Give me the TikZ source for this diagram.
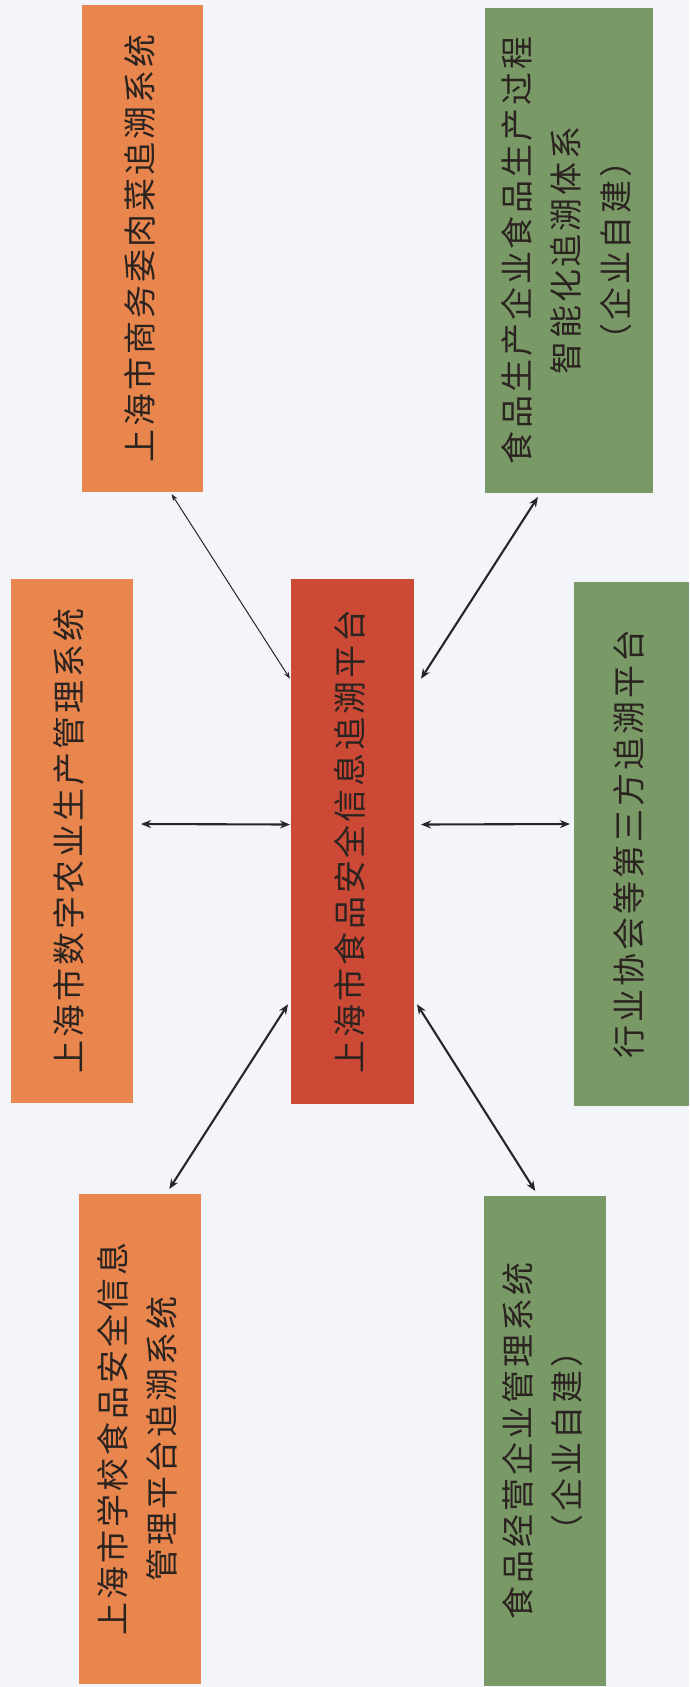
\documentclass[tikz,border=0pt]{standalone}
\usepackage{fontspec}
\newfontfamily\cjk[LetterSpace=9]{Noto Sans CJK SC}
\usetikzlibrary{calc,arrows.meta}
\definecolor{bgcol}{HTML}{F3F5FA}
\definecolor{orangebox}{HTML}{E9864D}
\definecolor{redbox}{HTML}{CC4936}
\definecolor{greenbox}{HTML}{799966}
\definecolor{txtcol}{HTML}{2A2320}
\newcommand\vtext[1]{\rotatebox{90}{\begin{tabular}{@{}c@{}}#1\end{tabular}}}
\tikzset{
  box/.style={rectangle, inner sep=0pt, outer sep=0pt, text=txtcol,
    font=\cjk\fontsize{33}{49.5}\selectfont},
  thinlink/.style={draw=black!85, line width=1pt, {Stealth[length=7pt,width=5pt]}-{Stealth[length=7pt,width=5pt]}},
  thicklink/.style={draw=black!85, line width=2.1pt, {Stealth[length=10pt,width=8pt]}-{Stealth[length=10pt,width=8pt]}}
}
\begin{document}
\begin{tikzpicture}[x=1pt,y=-1pt]
\fill[bgcol] (0,0) rectangle (689,1687);
\useasboundingbox (0,0) rectangle (689,1687);

\node[box, fill=orangebox, minimum width=121pt, minimum height=487pt] (tl) at (142.5,248.5) {\vtext{上海市商务委肉菜追溯系统}};
\node[box, fill=greenbox, minimum width=168pt, minimum height=485pt] (tr) at (569,250.5) {\vtext{食品生产企业食品生产过程\\智能化追溯体系\\（企业自建）}};
\node[box, fill=orangebox, minimum width=122pt, minimum height=524pt] (ml) at (72,841) {\vtext{上海市数字农业生产管理系统}};
\node[box, fill=redbox, minimum width=123pt, minimum height=525pt] (c) at (352.5,841.5) {\vtext{上海市食品安全信息追溯平台}};
\node[box, fill=greenbox, minimum width=115pt, minimum height=524pt] (mr) at (631.5,844) {\vtext{行业协会等第三方追溯平台}};
\node[box, fill=orangebox, minimum width=122pt, minimum height=490pt] (bl) at (140,1439) {\vtext{上海市学校食品安全信息\\管理平台追溯系统}};
\node[box, fill=greenbox, minimum width=122pt, minimum height=490pt] (br) at (545,1441) {\vtext{食品经营企业管理系统\\（企业自建）}};

\draw[thinlink] ($(tl.south west)!0.74!(tl.south east)+(0,2)$) -- ($(c.north west)!0.19!(c.south west)+(-1,0)$);
\draw[thicklink] ($(tr.south west)!0.315!(tr.south east)+(0,4)$) -- ($(c.north east)!0.19!(c.south east)+(7,0)$);
\draw[thicklink] ($(ml.east)+(8,-17)$) -- ($(c.west)+(-1,-17)$);
\draw[thicklink] ($(c.east)+(7,-17)$) -- ($(mr.west)+(-4,-20)$);
\draw[thicklink] ($(c.north west)!0.81!(c.south west)+(-3,0)$) -- ($(bl.north west)!0.74!(bl.north east)+(0,-5)$);
\draw[thicklink] ($(c.north east)!0.81!(c.south east)+(3,0)$) -- ($(br.north west)!0.42!(br.north east)+(0,-5)$);
\end{tikzpicture}
\end{document}
